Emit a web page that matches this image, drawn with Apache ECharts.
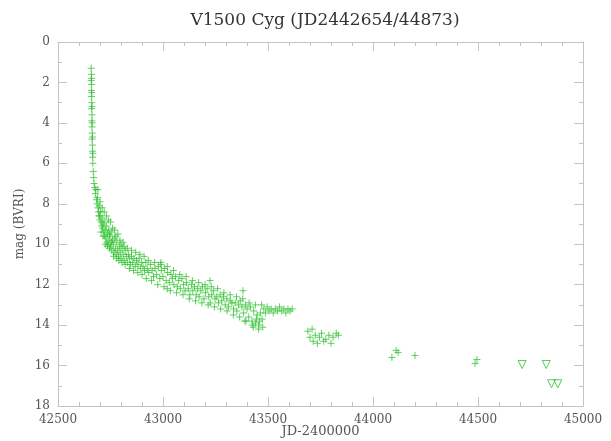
<!DOCTYPE html>
<html>
<head>
<meta charset="utf-8">
<script src="https://cdn.jsdelivr.net/npm/echarts@6/dist/echarts.min.js"></script>
<style>
  html, body { margin: 0; padding: 0; background: #fff; }
  #chart { width: 611px; height: 441px; }
</style>
</head>
<body>
<div id="chart"></div>
<script>
// V1500 Cyg light curve: [JD-2400000, magnitude]
const titleText = 'V1500 Cyg (JD2442654/44873)';
const xName = 'JD-2400000';
const yName = 'mag (BVRI)';

// near-maximum observations
const maxPhase = [
  [42658,1.3],[42659,1.6],[42658,1.9],[42660,2.1],[42659,2.4],[42660,2.7],
  [42661,3.0],[42660,3.3],[42662,3.6],[42661,3.9],[42662,4.2],[42663,4.5],
  [42662,4.8],[42664,5.1],[42664,5.4],[42665,5.7],[42666,6.0],[42660,1.8],
  [42661,2.5],[42662,3.2],[42663,4.0],[42664,4.7],[42666,5.5]
];

// early decline
const earlyDecline = [
  [42668,6.4],[42670,6.7],[42672,7.0],[42675,7.2],[42678,7.5],[42680,7.3],
  [42683,7.8],[42686,8.0],[42688,7.7],[42690,8.2],[42693,8.4],[42696,8.1],
  [42698,8.6],[42700,8.8],[42702,8.4],[42705,8.9],[42708,9.1],[42710,8.7],
  [42712,9.2],[42715,9.0],[42718,9.4],[42720,8.9],[42722,9.6],[42725,9.3],
  [42728,9.7],[42730,9.1],[42733,9.9],[42735,9.5],[42738,10.0],[42740,9.3],
  [42743,9.8],[42745,10.2],[42748,9.6],[42750,10.1],[42753,9.4],[42756,10.3],
  [42760,9.8],[42763,10.0],[42766,10.4],[42770,9.7],[42773,10.2],[42776,10.5],
  [42780,9.9],[42784,10.3],[42788,10.6],[42792,10.1],[42796,10.4],[42800,10.7],
  [42805,10.2],[42810,10.5],[42815,10.8],[42820,10.3],[42825,10.6],[42830,10.9],
  [42835,10.5],[42840,10.7],[42845,11.0],[42850,10.6],
  [42690,7.3],[42695,8.6],[42700,7.9],[42705,9.4],[42710,8.2],[42715,9.6],
  [42720,8.4],[42725,10.0],[42730,8.6],[42735,10.1],[42740,8.8],[42745,9.5],
  [42750,8.9],[42755,9.9],[42760,9.2],[42765,10.6],[42770,9.3],[42775,9.6],
  [42780,10.7],[42785,9.5],[42790,10.8],[42795,9.8],[42800,10.0],[42805,10.9],
  [42810,9.9],[42815,10.1],[42820,11.0],[42830,10.2],[42840,11.2],[42850,10.3]
];

// slow decline through the first year
const lateDecline = [
  [42856,10.9],[42862,10.7],[42868,11.1],[42874,10.8],[42880,11.0],[42886,10.7],
  [42892,11.2],[42898,10.9],[42905,11.1],[42912,11.3],[42918,10.9],[42925,11.2],
  [42932,11.4],[42940,11.0],[42948,11.3],[42955,11.6],[42962,11.2],[42970,11.5],
  [42978,11.1],[42985,11.7],[42992,11.3],[43000,11.6],[43008,11.2],[43015,11.8],
  [43022,11.4],[43030,11.9],[43038,11.5],[43045,11.7],[43052,12.0],[43060,11.6],
  [43068,12.1],[43075,11.8],[43083,12.2],[43090,11.7],[43098,12.0],[43105,12.3],
  [43112,11.9],[43120,12.2],[43128,12.5],[43135,12.0],[43142,12.3],[43150,12.1],
  [43158,12.5],[43165,12.2],[43172,12.6],[43180,12.3],[43188,12.1],[43195,12.7],
  [43202,12.4],[43210,12.2],[43218,12.6],[43225,12.9],[43232,12.5],[43240,12.3],
  [43248,12.7],[43256,12.6],[43264,12.9],[43272,12.5],[43280,12.8],[43288,12.6],
  [43296,13.0],[43304,12.7],[43312,13.1],[43320,12.8],[43328,12.9],[43336,13.2],
  [43344,12.9],[43352,13.3],[43360,13.0],[43368,12.8],[43376,13.1],[43384,13.4],
  [43392,13.0],[43400,13.2],[43408,13.6],[43416,13.1],[43424,13.8],[43432,13.3],
  [43440,13.9],[43448,13.5],[43456,14.0],[43464,13.4],[43472,13.7],[43480,13.2],
  [43488,13.4],[43496,13.1],[43505,13.3],[43515,13.2],[43525,13.4],[43535,13.2],
  [43545,13.3],[43555,13.1],[43565,13.3],[43575,13.2],[43585,13.4],[43595,13.2],
  [43605,13.3],[43615,13.2],
  [42990,10.9],[43020,12.2],[43224,11.8],[43381,12.3],[43390,13.8],[43430,14.1],
  [42860,11.3],[42870,10.4],[42880,11.4],[42890,10.5],[42900,11.5],[42910,10.6],
  [42920,11.7],[42930,10.8],[42945,11.8],[42960,10.9],[42975,12.0],[42990,11.0],
  [43005,12.1],[43020,11.1],[43035,12.3],[43050,11.3],[43065,12.4],[43080,11.5],
  [43095,12.5],[43110,11.6],[43125,12.7],[43140,11.8],[43155,12.8],[43170,11.9],
  [43185,12.9],[43200,12.0],[43215,13.0],[43230,12.1],[43245,13.1],[43260,12.2],
  [43275,13.2],[43290,12.4],[43305,13.3],[43320,12.5],[43335,13.5],[43350,12.6],
  [43365,13.6],[43380,12.7],[43395,13.8],[43410,12.9],[43425,14.0],[43440,13.0],
  [43455,14.2],[43470,13.0],[43445,13.7],[43460,13.8],[43475,14.1]
];

// second and third observing seasons
const seasons = [
  [43690,14.3],[43700,14.6],[43710,14.2],[43715,14.8],[43725,14.5],[43735,14.9],
  [43745,14.6],[43755,14.4],[43765,14.8],[43775,14.7],[43790,14.5],[43800,14.9],
  [43810,14.6],[43825,14.4],[43835,14.5],
  [44090,15.6],[44110,15.25],[44120,15.35],[44200,15.5],
  [44486,15.9],[44495,15.7]
];

// upper limits (fainter than)
const upperLimits = [[44710,15.95],[44825,15.95],[44850,16.9],[44880,16.9]];

const green = '#2cc02c';
const textFont = 'DejaVu Serif';
const frameColor = '#c4c4c4';

const crossStyle = {
  type: 'scatter',
  symbol: 'path://M5 0V10M0 5H10',
  symbolSize: 7,
  itemStyle: { color: 'rgba(0,0,0,0)', borderColor: green, borderWidth: 1, opacity: 0.75 },
  silent: true
};

function axisCommon(showLabels, splits) {
  return {
    type: 'value',
    axisLine: { show: true, onZero: false, lineStyle: { color: frameColor, width: 1 } },
    axisTick: { show: true, inside: true, length: 9, lineStyle: { color: frameColor } },
    minorTick: { show: true, splitNumber: splits, length: 4, lineStyle: { color: frameColor } },
    splitLine: { show: false },
    axisLabel: {
      show: showLabels, color: '#555', fontFamily: textFont, fontSize: 12,
      formatter: function (v) { return String(v); }
    }
  };
}

const chart = echarts.init(document.getElementById('chart'), null, { renderer: 'canvas' });
chart.setOption({
  animation: false,
  backgroundColor: '#fff',
  title: {
    text: titleText,
    left: 320,
    textAlign: 'center',
    top: 7,
    textStyle: { fontFamily: textFont, fontWeight: 'normal', fontSize: 17, color: '#333' }
  },
  grid: { left: 58, right: 28, top: 42, bottom: 35, outerBoundsMode: 'none', containLabel: false },
  xAxis: [
    Object.assign(axisCommon(true, 5), {
      min: 42500, max: 45000, interval: 500, position: 'bottom',
      name: xName, nameLocation: 'middle', nameGap: 19, nameMoveOverlap: false,
      nameTextStyle: { fontFamily: textFont, fontSize: 13, color: '#555' }
    }),
    Object.assign(axisCommon(false, 5), {
      min: 42500, max: 45000, interval: 500, position: 'top'
    })
  ],
  yAxis: [
    Object.assign(axisCommon(true, 2), {
      min: 0, max: 18, interval: 2, inverse: true, position: 'left',
      name: yName, nameLocation: 'middle', nameGap: 32, nameRotate: 90, nameMoveOverlap: false,
      nameTextStyle: { fontFamily: textFont, fontSize: 12, color: '#555' }
    }),
    Object.assign(axisCommon(false, 2), {
      min: 0, max: 18, interval: 2, inverse: true, position: 'right'
    })
  ],
  series: [
    Object.assign({ data: maxPhase }, crossStyle),
    Object.assign({ data: earlyDecline }, crossStyle),
    Object.assign({ data: lateDecline }, crossStyle),
    Object.assign({ data: seasons }, crossStyle),
    {
      type: 'scatter',
      data: upperLimits,
      symbol: 'triangle',
      symbolRotate: 180,
      symbolSize: 8,
      itemStyle: { color: 'rgba(0,0,0,0)', borderColor: green, borderWidth: 1 },
      silent: true
    }
  ]
});
</script>
</body>
</html>
